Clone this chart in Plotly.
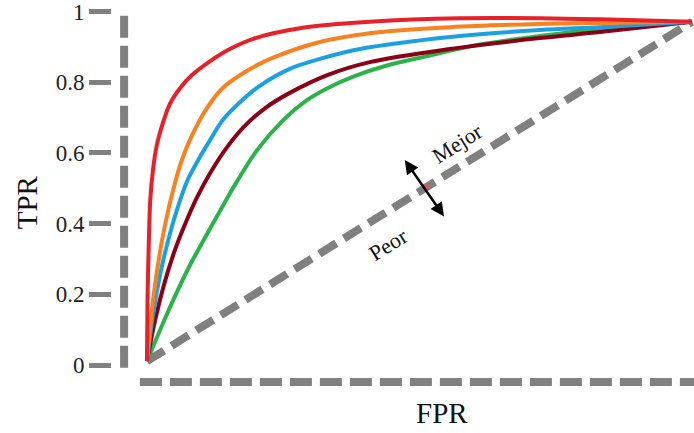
import plotly.graph_objects as go

# ROC curves (FPR, TPR) for five classifiers
fpr_red = [0, 0.001, 0.003, 0.006, 0.011, 0.018, 0.028, 0.042, 0.061, 0.083, 0.116, 0.152, 0.195, 0.286, 0.409, 0.574, 0.721, 0.831, 1.0]
tpr_red = [0.011, 0.184, 0.325, 0.467, 0.552, 0.622, 0.679, 0.739, 0.784, 0.821, 0.860, 0.894, 0.923, 0.954, 0.971, 0.981, 0.981, 0.978, 0.971]

fpr_orange = [0, 0.009, 0.020, 0.033, 0.048, 0.064, 0.083, 0.110, 0.139, 0.180, 0.226, 0.317, 0.409, 0.556, 0.721, 0.831, 1.0]
tpr_orange = [0.011, 0.156, 0.283, 0.396, 0.495, 0.580, 0.651, 0.727, 0.784, 0.829, 0.866, 0.914, 0.939, 0.956, 0.965, 0.968, 0.971]

fpr_blue = [0, 0.011, 0.024, 0.039, 0.055, 0.073, 0.094, 0.116, 0.139, 0.171, 0.207, 0.262, 0.317, 0.391, 0.556, 0.721, 0.831, 1.0]
tpr_blue = [0.011, 0.142, 0.255, 0.354, 0.439, 0.518, 0.580, 0.637, 0.693, 0.744, 0.790, 0.838, 0.866, 0.894, 0.928, 0.948, 0.956, 0.971]

fpr_darkred = [0, 0.015, 0.031, 0.050, 0.070, 0.092, 0.116, 0.143, 0.176, 0.217, 0.262, 0.332, 0.409, 0.556, 0.721, 0.831, 1.0]
tpr_darkred = [0.011, 0.127, 0.226, 0.320, 0.399, 0.475, 0.543, 0.608, 0.671, 0.727, 0.770, 0.821, 0.857, 0.894, 0.925, 0.942, 0.971]

fpr_green = [0, 0.024, 0.050, 0.079, 0.138, 0.161, 0.202, 0.250, 0.294, 0.332, 0.382, 0.437, 0.514, 0.598, 0.721, 0.831, 1.0]
tpr_green = [0.011, 0.099, 0.190, 0.283, 0.447, 0.509, 0.608, 0.693, 0.750, 0.784, 0.818, 0.846, 0.874, 0.903, 0.931, 0.951, 0.971]

# chance diagonal
fpr_diag = [0, 1.0]
tpr_diag = [0.011, 0.971]

tick_vals = [0, 0.2, 0.4, 0.6, 0.8, 1]
tick_text = ["0", "0.2", "0.4", "0.6", "0.8", "1"]

GRAY = "#808080"
SERIF = "Liberation Serif, Times New Roman, serif"

fig = go.Figure()

fig.add_trace(go.Scatter(x=fpr_diag, y=tpr_diag, mode="lines",
                         line=dict(color=GRAY, width=8, dash="20px,9px"),
                         hoverinfo="skip", showlegend=False))

curves = [
    (fpr_green, tpr_green, "#2bb34b"),
    (fpr_darkred, tpr_darkred, "#8b0016"),
    (fpr_blue, tpr_blue, "#1ba1e2"),
    (fpr_orange, tpr_orange, "#f7821f"),
    (fpr_red, tpr_red, "#e8202a"),
]
for xs, ys, col in curves:
    fig.add_trace(go.Scatter(x=xs, y=ys, mode="lines",
                             line=dict(color=col, width=4, shape="spline", smoothing=0.9),
                             showlegend=False))

# small cross where the arrow meets the diagonal
fig.add_trace(go.Scatter(x=[0.514], y=[0.504], mode="markers",
                         marker=dict(symbol="x-thin", size=6,
                                     line=dict(color="#ff4d4d", width=1.2)),
                         showlegend=False))

# dashed axis lines
fig.add_shape(type="line", x0=-0.042, x1=-0.042, y0=-0.008, y1=1.005,
              line=dict(color=GRAY, width=8, dash="22px,8px"))
fig.add_shape(type="line", x0=-0.013, x1=1.01, y0=-0.048, y1=-0.048,
              line=dict(color=GRAY, width=8, dash="22px,8px"))

# double-headed arrow across the diagonal
fig.add_annotation(x=0.473, y=0.580, ax=0.547, ay=0.416,
                   xref="x", yref="y", axref="x", ayref="y",
                   showarrow=True, arrowhead=2, startarrowhead=2,
                   arrowside="end+start", arrowsize=1.1, startarrowsize=1.1,
                   arrowwidth=2.5, arrowcolor="black", text="")

fig.add_annotation(x=0.569, y=0.628, xref="x", yref="y", text="Mejor",
                   showarrow=False, textangle=-32, xanchor="center", yanchor="middle",
                   font=dict(family=SERIF, size=22, color="#111"))
fig.add_annotation(x=0.443, y=0.340, xref="x", yref="y", text="Peor",
                   showarrow=False, textangle=-32, xanchor="center", yanchor="middle",
                   font=dict(family=SERIF, size=22, color="#111"))

# axis titles
fig.add_annotation(x=-0.146, y=0.533, xref="paper", yref="paper", text="TPR",
                   showarrow=False, textangle=-90, xanchor="center", yanchor="middle",
                   font=dict(family=SERIF, size=29, color="#111"))
fig.add_annotation(x=0.567, y=0.046, xref="paper", yref="paper", text="FPR",
                   showarrow=False, xanchor="center", yanchor="middle",
                   font=dict(family=SERIF, size=29, color="#111"))

fig.update_layout(
    width=694, height=433,
    margin=dict(l=112, r=0, t=0, b=0),
    paper_bgcolor="white", plot_bgcolor="white",
    xaxis=dict(range=[-0.0642, 1.0037], visible=False, fixedrange=True),
    yaxis=dict(range=[-0.1924, 1.0328], showgrid=False, zeroline=False,
               showline=False, tickmode="array", tickvals=tick_vals,
               ticktext=tick_text, ticks="outside", ticklen=22, tickwidth=5,
               tickcolor=GRAY, ticklabeloverflow="allow",
               tickfont=dict(family=SERIF, size=23, color="#222"),
               fixedrange=True),
)

fig.write_html("out.html")
